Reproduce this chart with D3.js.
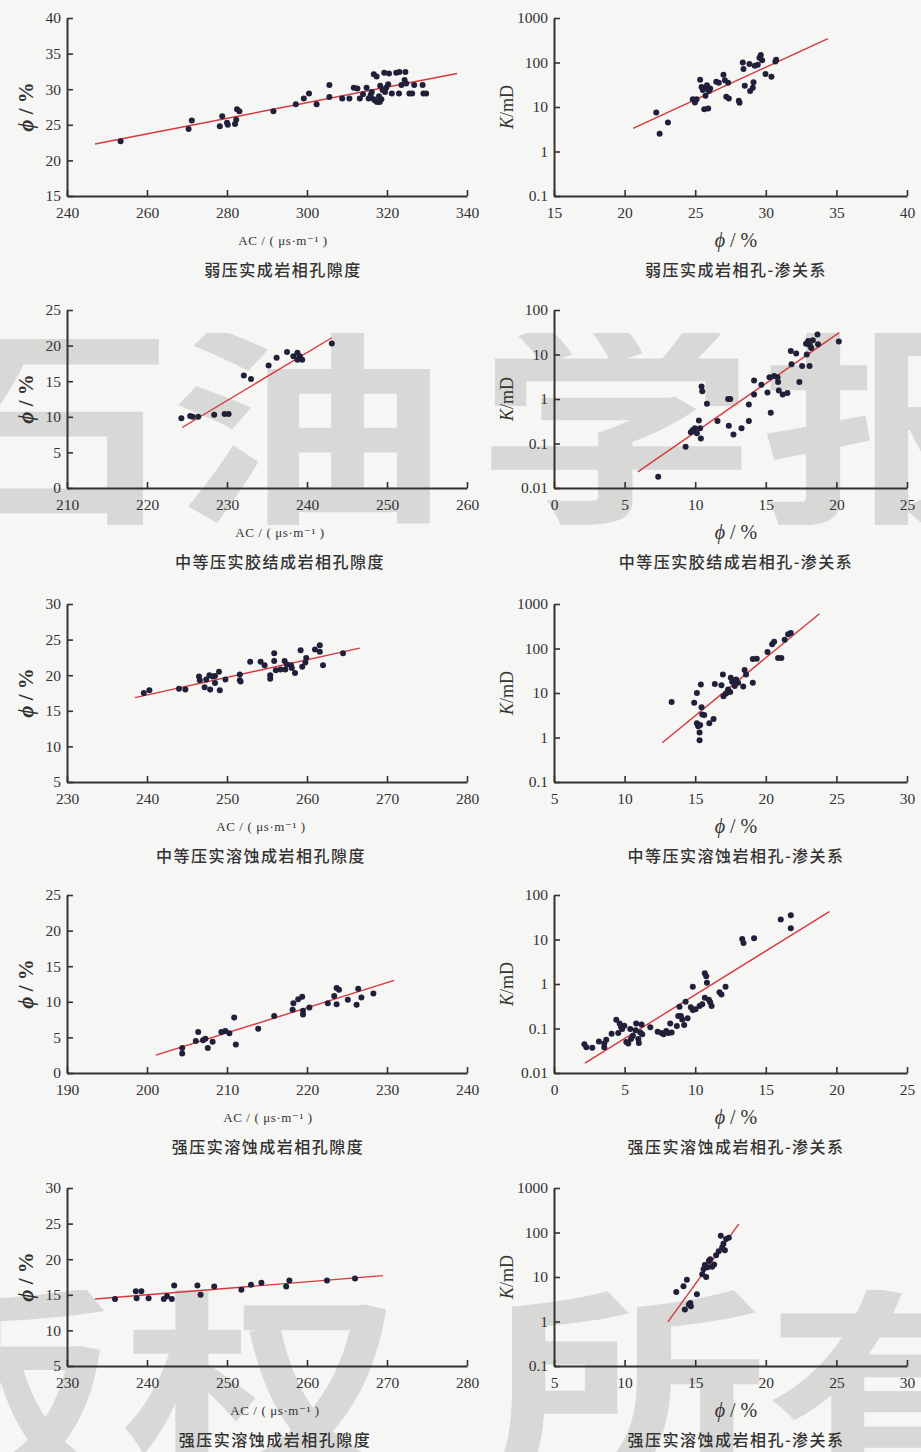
<!DOCTYPE html>
<html>
<head>
<meta charset="utf-8">
<script src="https://cdn.jsdelivr.net/npm/d3@7"></script>
<style>
  html, body { margin: 0; padding: 0; background: #f6f6f5; }
  svg { display: block; }
</style>
</head>
<body>
<svg id="chart" width="921" height="1452"></svg>
<script>
// ---- data ----

// row titles
const leftTitles = ["弱压实成岩相孔隙度", "中等压实胶结成岩相孔隙度", "中等压实溶蚀成岩相孔隙度", "强压实溶蚀成岩相孔隙度", "强压实溶蚀成岩相孔隙度"];
const rightTitles = ["弱压实成岩相孔-渗关系", "中等压实胶结成岩相孔-渗关系", "中等压实溶蚀岩相孔-渗关系", "强压实溶蚀成岩相孔-渗关系", "强压实溶蚀成岩相孔-渗关系"];

// axis domains and ticks
const leftXDomains = [[240, 340], [210, 260], [230, 280], [190, 240], [230, 280]];
const leftXTicks = [[240, 260, 280, 300, 320, 340], [210, 220, 230, 240, 250, 260], [230, 240, 250, 260, 270, 280], [190, 200, 210, 220, 230, 240], [230, 240, 250, 260, 270, 280]];
const leftYDomains = [[15, 40], [0, 25], [5, 30], [0, 25], [5, 30]];
const leftYTicks = [[15, 20, 25, 30, 35, 40], [0, 5, 10, 15, 20, 25], [5, 10, 15, 20, 25, 30], [0, 5, 10, 15, 20, 25], [5, 10, 15, 20, 25, 30]];
const rightXDomains = [[15, 40], [0, 25], [5, 30], [0, 25], [5, 30]];
const rightXTicks = [[15, 20, 25, 30, 35, 40], [0, 5, 10, 15, 20, 25], [5, 10, 15, 20, 25, 30], [0, 5, 10, 15, 20, 25], [5, 10, 15, 20, 25, 30]];
const rightYDomains = [[0.1, 1000], [0.01, 100], [0.1, 1000], [0.01, 100], [0.1, 1000]];
const rightYTicks = [[0.1, 1, 10, 100, 1000], [0.01, 0.1, 1, 10, 100], [0.1, 1, 10, 100, 1000], [0.01, 0.1, 1, 10, 100], [0.1, 1, 10, 100, 1000]];

// row 1: weak compaction
const ac1 = [253.4, 270.4, 271.2, 278.2, 278.8, 280.0, 280.2, 282.0, 282.3, 282.5, 283.1, 291.6, 297.2, 299.2, 300.5, 302.4, 305.6, 305.6, 308.8, 310.6, 311.7, 312.6, 313.2, 314.0, 314.9, 315.4, 315.9, 316.7, 316.7, 317.4, 317.5, 318.0, 318.2, 318.3, 318.9, 319.3, 319.5, 320.5, 320.3, 321.2, 322.3, 323.0, 323.1, 323.6, 324.4, 324.6, 324.8, 325.6, 326.3, 326.8, 328.9, 329.1, 329.8, 317.0, 318.6, 316.2, 319.8];
const poro1 = [22.7, 24.4, 25.6, 24.8, 26.2, 25.3, 25.0, 25.1, 25.7, 27.2, 26.9, 26.9, 27.9, 28.7, 29.4, 27.9, 30.6, 28.9, 28.7, 28.7, 30.2, 30.1, 28.7, 29.3, 30.2, 28.7, 29.2, 32.1, 28.6, 31.8, 28.2, 29.0, 28.2, 30.5, 29.9, 32.3, 29.6, 32.2, 30.7, 29.4, 32.3, 29.4, 32.4, 30.6, 31.3, 32.4, 30.8, 29.4, 29.4, 30.6, 30.6, 29.4, 29.4, 28.4, 28.6, 29.6, 30.2];
const fitPoro1 = [[247.0, 22.3], [337.5, 32.2]];
const phi1 = [22.24, 22.48, 23.07, 24.83, 24.98, 25.1, 25.35, 25.45, 25.54, 25.64, 25.73, 25.78, 25.83, 25.92, 25.97, 26.06, 26.49, 26.67, 27.0, 27.1, 27.2, 27.33, 27.38, 28.09, 28.14, 28.37, 28.42, 28.51, 28.84, 28.89, 29.08, 29.13, 29.22, 29.43, 29.55, 29.65, 29.74, 29.98, 30.4, 30.68, 30.73];
const perm1 = [7.5, 2.5, 4.5, 15, 12.6, 15, 41, 28, 24, 8.9, 18, 26, 31, 9.2, 23, 26, 37, 35, 53, 40, 17, 35, 15.5, 13.8, 12.5, 100, 71, 30, 93, 23, 27, 36, 85, 89, 128, 147, 112, 55, 48, 105, 115];
const fitPerm1 = [[20.6, 3.3], [34.4, 346]];

// row 2: medium compaction, cemented
const ac2 = [224.3, 225.4, 225.7, 226.4, 228.4, 229.7, 230.2, 232.1, 233.0, 235.2, 236.2, 237.5, 238.3, 238.8, 238.8, 239.1, 239.4, 243.1];
const poro2 = [9.8, 10.1, 10.0, 10.0, 10.3, 10.4, 10.4, 15.8, 15.3, 17.2, 18.3, 19.1, 18.5, 19.0, 18.0, 18.5, 18.0, 20.3];
const fitPoro2 = [[224.4, 8.5], [243.1, 21.1]];
const phi2 = [7.38, 9.32, 9.69, 9.83, 9.98, 10.12, 10.26, 10.35, 10.4, 10.45, 10.5, 10.83, 11.58, 12.33, 12.48, 12.38, 12.71, 13.28, 13.8, 13.8, 14.17, 14.17, 14.69, 15.12, 15.26, 15.35, 15.59, 15.83, 15.87, 15.92, 16.2, 16.53, 16.77, 16.82, 17.15, 17.38, 17.57, 17.85, 17.9, 18.0, 18.1, 18.13, 18.22, 18.33, 18.66, 18.7, 20.17];
const perm2 = [0.018, 0.085, 0.18, 0.20, 0.22, 0.17, 0.33, 0.22, 0.13, 1.9, 1.5, 0.78, 0.32, 1.0, 1.0, 0.25, 0.16, 0.22, 0.32, 0.75, 2.6, 1.26, 2.1, 1.4, 3.1, 0.49, 3.3, 3.1, 2.4, 1.56, 1.26, 1.37, 12, 6.0, 10.5, 2.4, 5.5, 17.5, 10, 20, 5.5, 16, 14, 21, 28, 17, 19.5];
const fitPerm2 = [[5.94, 0.023], [20.2, 31]];

// row 3: medium compaction, dissolution
const ac3 = [239.6, 240.3, 244.0, 244.8, 246.5, 246.6, 247.2, 247.4, 247.8, 247.9, 248.2, 248.5, 248.5, 249.0, 249.1, 249.8, 251.6, 251.6, 251.7, 252.9, 254.2, 254.7, 255.4, 255.4, 255.9, 255.9, 256.1, 256.7, 257.2, 257.3, 257.5, 258.0, 258.1, 258.5, 259.2, 259.4, 259.8, 259.9, 261.0, 261.6, 261.6, 262.0, 264.5];
const poro3 = [17.5, 17.9, 18.1, 18.0, 19.8, 19.3, 18.3, 19.4, 20.0, 18.0, 19.8, 19.9, 18.9, 20.5, 17.9, 19.4, 20.1, 19.3, 19.1, 21.9, 21.9, 21.4, 20.0, 19.5, 23.1, 22.0, 20.7, 20.8, 22.0, 20.8, 21.5, 21.4, 21.0, 20.3, 23.5, 21.2, 21.8, 22.4, 23.6, 24.2, 23.3, 21.4, 23.1];
const fitPoro3 = [[238.5, 16.85], [266.6, 23.8]];
const phi3 = [13.33, 14.93, 15.12, 15.12, 15.21, 15.31, 15.31, 15.35, 15.4, 15.45, 15.5, 15.64, 16.0, 16.3, 16.39, 16.86, 16.96, 17.0, 17.19, 17.33, 17.48, 17.52, 17.62, 17.8, 17.9, 18.04, 18.5, 18.4, 18.6, 19.08, 19.08, 19.36, 20.12, 20.45, 20.59, 20.87, 21.1, 21.34, 21.58, 21.77];
const perm3 = [6.3, 6.0, 10, 2.1, 1.8, 1.3, 0.87, 1.9, 15.5, 4.8, 3.3, 3.2, 2.1, 2.6, 16, 15, 26, 8.5, 9.8, 12, 10.5, 22, 18, 14.4, 20, 17, 33, 14, 26, 17, 58, 59, 83, 125, 142, 61, 61, 157, 208, 222];
const fitPerm3 = [[12.67, 0.76], [23.8, 605]];

// row 4: strong compaction, dissolution
const ac4 = [204.4, 204.4, 206.1, 206.4, 207.0, 207.3, 207.6, 208.2, 209.3, 209.8, 210.3, 210.9, 211.1, 213.9, 215.9, 218.2, 218.3, 218.9, 219.4, 219.5, 219.5, 220.3, 222.6, 223.4, 223.7, 223.7, 224.0, 225.1, 226.2, 226.4, 226.8, 228.3];
const poro4 = [3.5, 2.75, 4.5, 5.75, 4.6, 4.8, 3.5, 4.4, 5.75, 5.9, 5.6, 7.8, 4.0, 6.2, 8.0, 8.9, 9.8, 10.35, 10.7, 8.75, 8.2, 9.2, 9.8, 10.8, 9.65, 11.95, 11.7, 10.3, 9.6, 11.85, 10.6, 11.15];
const fitPoro4 = [[201.1, 2.5], [230.9, 13.0]];
const phi4 = [2.15, 2.29, 2.71, 3.18, 3.56, 3.56, 3.7, 4.08, 4.41, 4.55, 4.65, 4.74, 4.83, 4.98, 5.12, 5.26, 5.4, 5.45, 5.59, 5.78, 5.82, 5.97, 6.01, 6.11, 6.2, 6.25, 6.82, 7.34, 7.62, 7.76, 7.95, 8.1, 8.23, 8.33, 8.7, 8.8, 8.89, 8.99, 9.08, 9.22, 9.32, 9.46, 9.69, 9.83, 9.83, 10.02, 10.31, 10.5, 10.68, 10.68, 10.78, 10.83, 10.97, 11.06, 11.16, 11.72, 11.86, 12.15, 13.33, 13.42, 14.17, 16.06, 16.77, 16.77];
const perm4 = [0.044, 0.038, 0.037, 0.051, 0.046, 0.038, 0.056, 0.076, 0.158, 0.079, 0.129, 0.11, 0.098, 0.115, 0.050, 0.046, 0.098, 0.058, 0.069, 0.091, 0.13, 0.058, 0.047, 0.081, 0.123, 0.074, 0.107, 0.085, 0.079, 0.074, 0.088, 0.079, 0.13, 0.081, 0.114, 0.19, 0.31, 0.19, 0.16, 0.12, 0.40, 0.17, 0.30, 0.26, 0.87, 0.27, 0.32, 0.35, 0.49, 1.75, 1.5, 1.07, 0.44, 0.39, 0.32, 0.65, 0.58, 0.87, 10.2, 8.3, 10.7, 28, 35, 17.8];
const fitPerm4 = [[2.19, 0.0167], [19.5, 42.3]];

// row 5: strong compaction, dissolution (second set)
const ac5 = [236.0, 238.6, 238.7, 239.3, 240.2, 242.1, 242.5, 243.1, 243.4, 246.3, 246.7, 248.4, 251.8, 253.0, 254.3, 257.4, 257.8, 262.5, 266.0];
const poro5 = [14.4, 15.5, 14.5, 15.5, 14.5, 14.4, 14.8, 14.4, 16.3, 16.3, 15.0, 16.15, 15.7, 16.4, 16.7, 16.15, 17.0, 17.0, 17.3];
const fitPoro5 = [[233.5, 14.4], [269.5, 17.7]];
const phi5 = [13.66, 14.17, 14.41, 14.27, 14.55, 14.65, 14.69, 15.12, 15.5, 15.59, 15.68, 15.78, 15.87, 15.97, 16.06, 16.2, 16.34, 16.48, 16.67, 16.81, 16.91, 17.0, 17.1, 17.19, 17.38];
const perm5 = [4.6, 6.2, 8.7, 1.86, 2.4, 2.6, 2.2, 4.1, 11.5, 15, 18.5, 10, 16.6, 23, 25, 17, 19, 31, 38, 85, 46, 56, 40, 71, 76];
const fitPerm5 = [[13.07, 0.98], [18.09, 156]];

const leftX = [ac1, ac2, ac3, ac4, ac5];
const leftY = [poro1, poro2, poro3, poro4, poro5];
const leftFit = [fitPoro1, fitPoro2, fitPoro3, fitPoro4, fitPoro5];
const rightX = [phi1, phi2, phi3, phi4, phi5];
const rightY = [perm1, perm2, perm3, perm4, perm5];
const rightFit = [fitPerm1, fitPerm2, fitPerm3, fitPerm4, fitPerm5];

const watermarkTop = ["石", "油", "学", "报"];
const watermarkBottom = ["版", "权", "所", "有"];

// ---- layout ----
const W = 921, H = 1452;
const rowTop = [18, 310, 604, 895, 1188];
const plotH = 178;
const leftX0 = 67, leftX1 = 467;
const rightX0 = 554, rightX1 = 907;
const leftLabelCx = [283, 280, 261, 268, 275];
const rightLabelCx = 736;

const serif = "'Liberation Serif', 'DejaVu Serif', serif";
const cjk = "'Noto Sans CJK SC', sans-serif";
const ink = "#333";
const dotColor = "#20203a";
const fitColor = "#d8373f";

const svg = d3.select("#chart");
svg.append("rect").attr("width", W).attr("height", H).attr("fill", "#f6f6f5");

// watermark (faint, behind the plots)
const defs = svg.append("defs");
defs.append("clipPath").attr("id", "wm1").append("rect").attr("x", 0).attr("y", 333).attr("width", W).attr("height", 192);
defs.append("clipPath").attr("id", "wm2").append("rect").attr("x", 0).attr("y", 1290).attr("width", W).attr("height", 170);

function watermark(chars, centers, baseline, clip) {
  const g = svg.append("g").attr("clip-path", `url(#${clip})`);
  g.selectAll("text")
    .data(chars)
    .join("text")
    .attr("transform", (d, i) => `translate(${centers[i]},${baseline}) scale(1.3,1)`)
    .attr("text-anchor", "middle")
    .attr("font-family", cjk)
    .attr("font-weight", 700)
    .attr("font-size", 215)
    .attr("fill", "#d8d8d7")
    .text(d => d);
}
watermark(watermarkTop, [35, 308, 616, 900], 507, "wm1");
watermark(watermarkBottom, [-25, 262, 628, 905], 1470, "wm2");

function styleAxis(g) {
  g.attr("font-family", serif).attr("font-size", 15.5);
  g.select(".domain").attr("stroke", ink).attr("stroke-width", 2);
  g.selectAll(".tick line").attr("stroke", ink).attr("stroke-width", 1.6);
  g.selectAll(".tick text").attr("fill", ink);
}

function drawPanel(opt) {
  const bottom = opt.top + plotH;
  const x = d3.scaleLinear().domain(opt.xDomain).range([opt.x0, opt.x1]);
  const y = (opt.log ? d3.scaleLog() : d3.scaleLinear()).domain(opt.yDomain).range([bottom, opt.top]);
  const g = svg.append("g");

  // axes, ticks point inward
  g.append("g")
    .attr("transform", `translate(0,${bottom})`)
    .call(d3.axisBottom(x).tickValues(opt.xTicks).tickSize(-6).tickSizeOuter(0).tickPadding(11).tickFormat(d => String(d)))
    .call(styleAxis);

  g.append("g")
    .attr("transform", `translate(${opt.x0},0)`)
    .call(d3.axisLeft(y).tickValues(opt.yTicks).tickSize(-6).tickSizeOuter(0).tickPadding(6).tickFormat(d => String(d)))
    .call(styleAxis);

  // regression line
  const line = d3.line().x(d => x(d[0])).y(d => y(d[1]));
  g.append("path")
    .datum(opt.fit)
    .attr("fill", "none")
    .attr("stroke", fitColor)
    .attr("stroke-width", 1.4)
    .attr("d", line);

  // samples
  g.append("g")
    .selectAll("circle")
    .data(d3.zip(opt.xs, opt.ys))
    .join("circle")
    .attr("cx", d => x(d[0]))
    .attr("cy", d => y(d[1]))
    .attr("r", 3)
    .attr("fill", dotColor);

  // y label
  const yl = g.append("text")
    .attr("transform", `translate(${opt.yLabelX},${opt.top + plotH / 2}) rotate(-90)`)
    .attr("text-anchor", "middle")
    .attr("dominant-baseline", "central")
    .attr("font-family", serif)
    .attr("fill", ink);
  if (opt.log) {
    yl.attr("font-size", 18);
    yl.append("tspan").attr("font-style", "italic").text("K");
    yl.append("tspan").text("/mD");
  } else {
    yl.attr("font-size", 21).attr("font-weight", 700);
    yl.append("tspan").attr("font-style", "italic").text("ϕ");
    yl.append("tspan").text(" / %");
  }

  // x label
  const xl = g.append("text")
    .attr("x", opt.labelCx)
    .attr("text-anchor", "middle")
    .attr("font-family", serif)
    .attr("fill", ink);
  if (opt.log) {
    xl.attr("y", bottom + 51).attr("font-size", 20);
    xl.append("tspan").attr("font-style", "italic").text("ϕ");
    xl.append("tspan").text(" / %");
  } else {
    xl.attr("y", bottom + 49).attr("font-size", 13).attr("letter-spacing", 0.6).text("AC / ( μs·m⁻¹ )");
  }

  // panel title
  g.append("text")
    .attr("x", opt.labelCx)
    .attr("y", bottom + 80)
    .attr("text-anchor", "middle")
    .attr("font-family", cjk)
    .attr("font-size", 16)
    .attr("font-weight", 500)
    .attr("letter-spacing", 1.5)
    .attr("fill", ink)
    .text(opt.title);
}

rowTop.forEach((top, i) => {
  drawPanel({
    top, x0: leftX0, x1: leftX1, log: false,
    xDomain: leftXDomains[i], xTicks: leftXTicks[i],
    yDomain: leftYDomains[i], yTicks: leftYTicks[i],
    xs: leftX[i], ys: leftY[i], fit: leftFit[i],
    yLabelX: 26, labelCx: leftLabelCx[i], title: leftTitles[i]
  });
  drawPanel({
    top, x0: rightX0, x1: rightX1, log: true,
    xDomain: rightXDomains[i], xTicks: rightXTicks[i],
    yDomain: rightYDomains[i], yTicks: rightYTicks[i],
    xs: rightX[i], ys: rightY[i], fit: rightFit[i],
    yLabelX: 507, labelCx: rightLabelCx, title: rightTitles[i]
  });
});
</script>
</body>
</html>
